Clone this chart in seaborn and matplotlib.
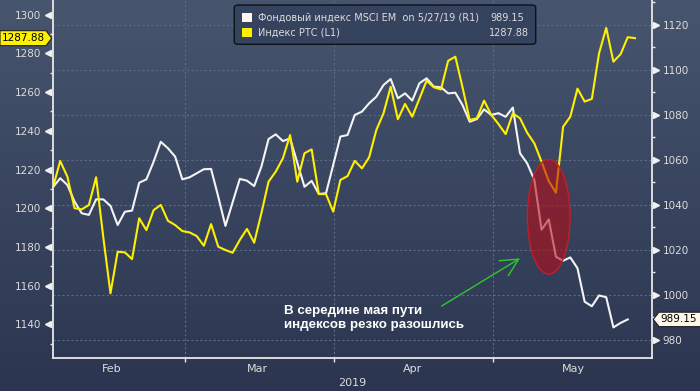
import numpy as np
import matplotlib.pyplot as plt
from matplotlib.colors import LinearSegmentedColormap
from matplotlib.patches import Ellipse, FancyBboxPatch, Polygon, Rectangle
import seaborn as sns

# RTS index (left axis), daily closes Feb - May 27 2019
rts = [1210.8, 1224.4, 1216.3, 1200.0, 1199.4, 1201.7, 1216.0, 1185.0, 1156.0, 1177.5,
       1177.2, 1173.7, 1194.8, 1188.7, 1199.0, 1201.7, 1193.5, 1191.3, 1188.2, 1187.5,
       1185.6, 1180.6, 1191.8, 1180.1, 1178.4, 1177.0, 1183.6, 1189.3, 1182.2, 1197.4,
       1213.7, 1218.9, 1225.8, 1237.8, 1213.7, 1228.4, 1230.4, 1207.3, 1207.3, 1198.2,
       1214.6, 1216.6, 1224.5, 1220.6, 1226.3, 1240.4, 1249.0, 1262.8, 1246.0, 1253.9,
       1247.3, 1256.6, 1265.9, 1262.5, 1261.4, 1276.2, 1278.3, 1262.5, 1245.6, 1246.5,
       1255.6, 1248.2, 1243.5, 1238.3, 1249.0, 1246.5, 1239.0, 1233.5, 1224.0, 1214.0,
       1208.0, 1242.1, 1247.3, 1261.8, 1255.1, 1256.5, 1280.0, 1293.2, 1275.7, 1279.6,
       1288.4, 1287.88]

# MSCI EM (right axis)
msci = [1047.9, 1051.9, 1048.9, 1041.5, 1036.3, 1035.6, 1042.5, 1042.5, 1039.6, 1031.1,
        1037.0, 1037.5, 1049.9, 1051.4, 1059.2, 1068.1, 1065.2, 1061.5, 1051.4, 1052.3,
        1054.1, 1055.9, 1056.0, 1043.7, 1030.7, 1041.2, 1051.6, 1050.8, 1048.4, 1057.0,
        1069.3, 1071.4, 1068.4, 1069.6, 1058.8, 1048.1, 1050.7, 1044.9, 1045.2, 1057.8,
        1070.4, 1071.1, 1080.0, 1081.5, 1085.2, 1088.1, 1093.3, 1096.0, 1087.4, 1089.6,
        1086.4, 1094.1, 1096.3, 1092.6, 1092.3, 1089.6, 1089.9, 1084.4, 1077.0, 1078.2,
        1082.5, 1080.0, 1080.8, 1079.2, 1083.3, 1063.0, 1058.5, 1051.1, 1029.0, 1033.6,
        1017.0, 1015.2, 1016.7, 1011.9, 997.0, 995.0, 999.8, 999.0, 985.6, 987.6,
        989.15]

day_rts = np.arange(len(rts))
day_msci = np.arange(len(msci))

month_names = ['Feb', 'Mar', 'Apr', 'May']
month_mid = [8.2, 28.5, 50.1, 72.5]
month_edge = [18.4, 39.1, 61.2]

rts_ticks = list(range(1140, 1301, 20))
msci_ticks = list(range(980, 1121, 20))

msci_label = 'Фондовый индекс MSCI EM  on 5/27/19 (R1)'
rts_label = 'Индекс РТС (L1)'
note = 'В середине мая пути\nиндексов резко разошлись'

W, H = 700, 391
TXT = '#dcdcdc'
GRID = '#5b6a86'


def fpx(x, y):
    # pixel from top-left -> figure fraction
    return (x / W, 1 - y / H)


fig = plt.figure(figsize=(7, 3.91), dpi=100)

# gradient background
bg = fig.add_axes([0, 0, 1, 1], zorder=-10)
cmap = LinearSegmentedColormap.from_list('bg', ['#47556f', '#2b3550'])
bg.imshow(np.linspace(0, 1, 256)[:, None], aspect='auto', cmap=cmap, extent=[0, 1, 0, 1])
bg.axis('off')

ax = fig.add_axes([52.5 / W, 33 / H, (651.7 - 52.5) / W, 358 / H])
ax2 = ax.twinx()
ax.set_zorder(ax2.get_zorder() + 1)
ax.patch.set_visible(False)
ax2.patch.set_visible(False)

sns.lineplot(x=day_msci, y=msci, ax=ax2, color='#f4f4f4', linewidth=1.5, legend=False)
sns.lineplot(x=day_rts, y=rts, ax=ax, color='#fff000', linewidth=1.5, legend=False)

ax.set_xlim(-0.07, 83.33)
ax.set_ylim(1122.6, 1307.6)
ax2.set_ylim(972.0, 1131.1)
ax.set_xlabel('')
ax.set_ylabel('')
ax2.set_ylabel('')

# grid
ax2.set_yticks(msci_ticks)
ax2.grid(axis='y', color=GRID, linestyle=(0, (2, 2)), linewidth=0.8)
for e in month_edge:
    ax2.axvline(e, color=GRID, linestyle=(0, (2, 2)), linewidth=0.8, zorder=0)

# spines
for s in ['top', 'right']:
    ax.spines[s].set_visible(False)
for s in ['top', 'left', 'bottom']:
    ax2.spines[s].set_visible(False)
for sp in [ax.spines['left'], ax.spines['bottom'], ax2.spines['right']]:
    sp.set_color('#e8e8e8')
    sp.set_linewidth(1.3)

# x ticks: boundaries + month names in the middle
ax.set_xticks(month_edge)
ax.set_xticklabels([])
ax.set_xticks(month_mid, minor=True)
ax.set_xticklabels(month_names, minor=True)
ax.tick_params(axis='x', which='major', length=3, width=1, color='#e8e8e8')
ax.tick_params(axis='x', which='minor', length=0, pad=4, labelsize=8, labelcolor=TXT)

# y ticks left
ax.set_yticks(rts_ticks)
ax.set_yticks([v - 10 for v in rts_ticks] + [1290], minor=True)
ax.tick_params(axis='y', which='major', length=0, pad=8, labelsize=7.5, labelcolor=TXT)
ax.tick_params(axis='y', which='minor', length=2.5, width=1, color='#e8e8e8')
ax.plot(np.full(len(rts_ticks), -0.007), rts_ticks, ls='none', marker='<', ms=5,
        color='#f0f0f0', transform=ax.get_yaxis_transform(), clip_on=False)

# y ticks right
ax2.set_yticks([v + 10 for v in msci_ticks], minor=True)
ax2.tick_params(axis='y', which='major', length=0, pad=8, labelsize=7.5, labelcolor=TXT)
ax2.tick_params(axis='y', which='minor', length=2.5, width=1, color='#e8e8e8')
ax2.plot(np.full(len(msci_ticks), 1.007), msci_ticks, ls='none', marker='>', ms=5,
         color='#f0f0f0', transform=ax2.get_yaxis_transform(), clip_on=False)

# highlight ellipse over the divergence
ax.add_patch(Ellipse((69.0, 1195.6), 5.94, 59.3, facecolor=(0.72, 0.04, 0.08, 0.58),
                     edgecolor='#c41e28', linewidth=1, zorder=5))

fig.text(352 / W, 1 - 383 / H, '2019', ha='center', va='center', fontsize=8, color=TXT)

# annotation
fig.text(*fpx(284, 318), note, ha='left', va='center', fontsize=9.6, fontweight='bold',
         family='Liberation Sans', color='white', linespacing=1.2)
ax.annotate('', xy=fpx(520, 258.3), xytext=fpx(441.7, 306), xycoords='figure fraction',
            textcoords='figure fraction',
            arrowprops=dict(arrowstyle='->,head_length=0.7,head_width=0.35',
                            color='#2fc82f', lw=1, mutation_scale=18, shrinkA=0, shrinkB=0))

# legend box
leg = FancyBboxPatch(fpx(234.3, 44.3), 301.4 / W, 39.3 / H,
                     boxstyle='round,pad=0,rounding_size=0.006', transform=fig.transFigure,
                     facecolor='#36435e', edgecolor='#0d1118', linewidth=1, zorder=20)
fig.add_artist(leg)
fig.add_artist(Rectangle(fpx(242, 22), 9.5 / W, 9 / H, transform=fig.transFigure,
                         facecolor='#fff4f0', edgecolor='none', zorder=21))
fig.add_artist(Rectangle(fpx(242, 36.5), 9.5 / W, 9 / H, transform=fig.transFigure,
                         facecolor='#fff000', edgecolor='none', zorder=21))
fig.text(*fpx(257.5, 18), msci_label, ha='left', va='center', fontsize=7, color=TXT, zorder=22)
fig.text(*fpx(257.5, 32.5), rts_label, ha='left', va='center', fontsize=7, color=TXT, zorder=22)
fig.text(*fpx(490.5, 18), f'{msci[-1]:.2f}', ha='left', va='center', fontsize=7,
         color=TXT, zorder=22)
fig.text(*fpx(529, 32.5), f'{rts[-1]:.2f}', ha='right', va='center', fontsize=7,
         color=TXT, zorder=22)

# last value tags
fig.canvas.draw()
yl = ax.transData.transform((0, rts[-1]))[1]
yr = ax2.transData.transform((0, msci[-1]))[1]
ty = H - yl
fig.add_artist(Polygon([fpx(0, ty - 7.5), fpx(46, ty - 7.5), fpx(51.7, ty), fpx(46, ty + 7.5),
                        fpx(0, ty + 7.5)], closed=True, transform=fig.transFigure,
                       facecolor='#fff200', edgecolor='#222222', linewidth=0.8, zorder=30))
fig.text(*fpx(23, ty), f'{rts[-1]:.2f}', ha='center', va='center', fontsize=7.5,
         color='black', zorder=31)
ty = H - yr
fig.add_artist(Polygon([fpx(653.3, ty), fpx(659, ty - 7.2), fpx(701, ty - 7.2),
                        fpx(701, ty + 7.2), fpx(659, ty + 7.2)], closed=True,
                       transform=fig.transFigure, facecolor='#fff6ea', edgecolor='#222222',
                       linewidth=0.8, zorder=30))
fig.text(*fpx(679, ty), f'{msci[-1]:.2f}', ha='center', va='center', fontsize=7.5,
         color='black', zorder=31)

fig.savefig('out.png', dpi=100)
